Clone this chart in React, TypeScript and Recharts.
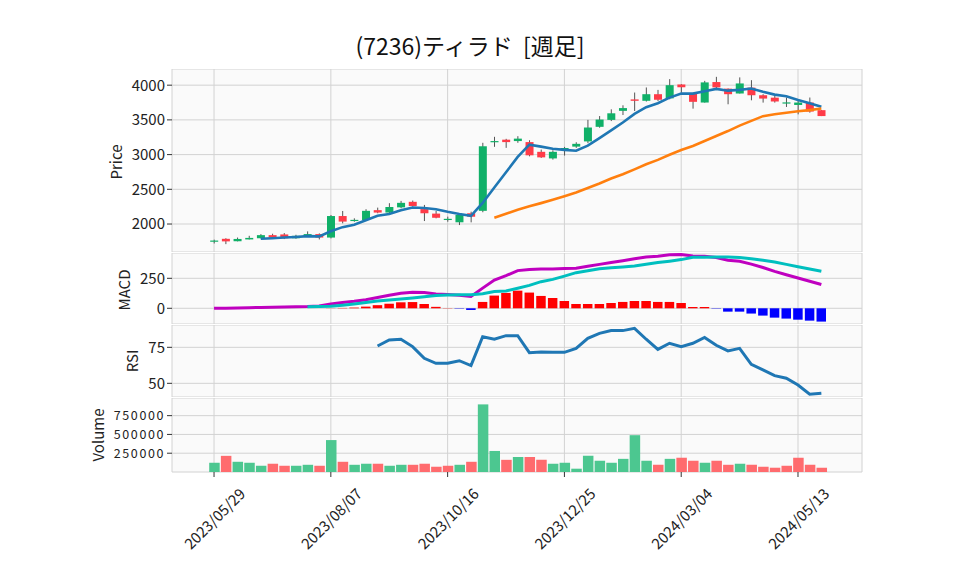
import React from 'react';
import { ComposedChart, Bar, Line, XAxis, YAxis, CartesianGrid, Cell } from 'recharts';

// weekly bars, index 0 = 2023/05/29
const tickIdx = [0, 10, 20, 30, 40, 50];
const tickLabels = ['2023/05/29', '2023/08/07', '2023/10/16', '2023/12/25', '2024/03/04', '2024/05/13'];

const opens = [1750, 1787, 1752, 1778, 1795, 1840, 1850, 1795, 1826, 1855, 1805, 2115, 2050, 2058, 2200, 2165, 2240, 2320, 2215, 2150, 2068, 2025, 2155, 2190, 3185, 3215, 3195, 3180, 3040, 2945, 3065, 3115, 3190, 3400, 3500, 3630, 3795, 3775, 3870, 3810, 4010, 3880, 3750, 4045, 3950, 3880, 3965, 3855, 3820, 3745, 3715, 3750, 3640];
const highs = [1775, 1795, 1805, 1830, 1855, 1860, 1870, 1845, 1894, 1865, 2130, 2188, 2082, 2213, 2236, 2300, 2333, 2338, 2275, 2188, 2106, 2155, 2178, 3170, 3256, 3227, 3265, 3207, 3072, 3062, 3111, 3178, 3500, 3555, 3652, 3710, 3894, 3967, 3932, 4087, 4015, 3880, 4062, 4120, 3952, 4112, 4072, 3870, 3845, 3822, 3772, 3822, 3640];
const lows = [1720, 1710, 1750, 1778, 1793, 1803, 1783, 1788, 1826, 1778, 1793, 2010, 2033, 2048, 2155, 2155, 2227, 2251, 2043, 2082, 2033, 1985, 2024, 2170, 3112, 3097, 3170, 2975, 2952, 2928, 2986, 3097, 3165, 3387, 3483, 3570, 3628, 3764, 3772, 3797, 3890, 3662, 3749, 3955, 3725, 3880, 3782, 3749, 3749, 3686, 3580, 3604, 3555];
const closes = [1762, 1750, 1785, 1800, 1840, 1805, 1795, 1830, 1855, 1805, 2115, 2035, 2060, 2190, 2165, 2245, 2305, 2260, 2155, 2090, 2075, 2130, 2105, 3120, 3195, 3180, 3230, 2990, 2960, 3040, 3095, 3155, 3390, 3505, 3595, 3670, 3775, 3870, 3790, 4000, 3970, 3760, 4040, 3968, 3870, 4025, 3855, 3807, 3765, 3752, 3750, 3620, 3555];
const volumes = [123000, 215000, 136000, 123000, 83000, 110000, 83000, 83000, 96000, 83000, 425000, 136000, 96000, 110000, 110000, 83000, 96000, 96000, 110000, 70000, 83000, 96000, 136000, 900000, 280000, 162000, 200000, 200000, 162000, 110000, 123000, 44000, 215000, 150000, 123000, 175000, 490000, 150000, 96000, 175000, 190000, 150000, 123000, 150000, 96000, 110000, 96000, 70000, 57000, 83000, 190000, 96000, 57000];

const ma5 = [null, null, null, null, 1787, 1796, 1805, 1814, 1825, 1822, 1895, 1955, 1990, 2055, 2120, 2145, 2198, 2238, 2230, 2214, 2177, 2145, 2118, 2304, 2525, 2746, 2966, 3143, 3115, 3085, 3068, 3055, 3128, 3237, 3348, 3463, 3587, 3683, 3740, 3821, 3881, 3878, 3912, 3947, 3921, 3932, 3951, 3904, 3864, 3841, 3786, 3739, 3688];
const ma25 = [null, null, null, null, null, null, null, null, null, null, null, null, null, null, null, null, null, null, null, null, null, null, null, null, 2091, 2148, 2207, 2255, 2301, 2349, 2401, 2455, 2518, 2584, 2655, 2718, 2787, 2860, 2924, 2997, 3066, 3124, 3195, 3268, 3339, 3417, 3486, 3554, 3580, 3602, 3625, 3641, 3663];

const macd = [0, 1, 3, 5, 7, 9, 11, 13, 15, 20, 35, 48, 58, 72, 90, 108, 126, 134, 131, 120, 114, 109, 98, 168, 236, 272, 314, 324, 327, 328, 331, 334, 350, 366, 382, 397, 413, 428, 434, 446, 448, 437, 434, 424, 400, 392, 368, 340, 308, 280, 252, 225, 198];
const signal = [null, null, null, null, null, null, null, null, 12, 14, 18, 26, 36, 48, 60, 70, 78, 86, 96, 106, 111, 112, 112, 122, 140, 145, 167, 191, 222, 241, 268, 297, 313, 329, 338, 344, 352, 367, 381, 393, 406, 426, 425, 427, 428, 423, 413, 401, 386, 366, 347, 328, 309];
const hist = [null, null, null, null, null, null, null, null, 0, 0, 1, 3, 6, 14, 26, 38, 50, 52, 36, 12, 2, -3, -14, 53, 106, 128, 147, 131, 103, 86, 61, 36, 36, 36, 44, 53, 61, 61, 53, 53, 44, 11, 11, -3, -28, -28, -44, -61, -78, -86, -95, -103, -111];

const rsi = [null, null, null, null, null, null, null, null, null, null, null, null, null, null, 75.9, 80.1, 80.6, 75.5, 67.4, 63.9, 63.9, 65.7, 62.3, 82.4, 80.6, 83.1, 83.1, 71.3, 71.8, 71.5, 71.5, 74.3, 81.3, 84.7, 86.6, 86.6, 88.2, 80.6, 73.6, 77.8, 75.5, 77.8, 81.9, 76.4, 72.5, 74.3, 63.2, 59.3, 55.3, 53.5, 48.8, 42.4, 43.1];

const UP = '#10b068';
const DOWN = '#ff3b48';
const VOL_UP = '#4cc790';
const VOL_DOWN = '#ff6b6e';
const GRID = '#d2d2d2';
const BG = '#fafafa';
const FONT = '"Noto Sans CJK JP", "Noto Sans", sans-serif';

const data = opens.map((o, i) => ({
  i,
  o,
  h: highs[i],
  l: lows[i],
  c: closes[i],
  range: [lows[i], highs[i]],
  vol: volumes[i],
  volUp: i === 0 || closes[i] >= closes[i - 1],
  ma5: ma5[i],
  ma25: ma25[i],
  macd: macd[i],
  signal: signal[i],
  hist: hist[i],
  rsi: rsi[i],
}));

const W = 958;
const margin = { top: 0, right: 96, bottom: 0, left: 112 };
const xDomain = [-3.6, 55.48];
const tickStyle = { fontSize: 15, fill: '#222' };
const volTickStyle = { fontSize: 12.5, fill: '#222', letterSpacing: 1.6 };

const Candle = (props: any) => {
  const { x, y, width, height, payload } = props;
  const { o, c, h, l } = payload;
  const k = height / Math.max(h - l, 1e-6);
  const yOf = (v: number) => y + (h - v) * k;
  const color = c >= o ? UP : DOWN;
  const cx = x + width / 2;
  const top = yOf(Math.max(o, c));
  const bot = yOf(Math.min(o, c));
  return (
    <g>
      <line x1={cx} x2={cx} y1={y} y2={y + height} stroke="#555" strokeWidth={1} />
      <rect x={x} y={top} width={width} height={Math.max(bot - top, 1.2)} fill={color} />
    </g>
  );
};

const DateTick = (props: any) => {
  const { x, y, payload } = props;
  const label = tickLabels[tickIdx.indexOf(payload.value)];
  return (
    <g transform={`translate(${x},${y + 39})`}>
      <text transform="rotate(-45)" textAnchor="middle" dominantBaseline="central" fontSize={15} fill="#222">
        {label}
      </text>
    </g>
  );
};

const xHidden = <XAxis dataKey="i" type="number" domain={xDomain} ticks={tickIdx} hide allowDataOverflow />;

export default function App() {
  return (
    <div style={{ position: 'absolute', left: 0, top: 0, width: W, height: 575, background: '#fff', fontFamily: FONT }}>
      <svg width={W} height={575} style={{ position: 'absolute', left: 0, top: 0 }}>
        <text x={470} y={45} textAnchor="middle" dominantBaseline="central" fontSize={23} fill="#111" style={{ whiteSpace: 'pre' }}>
          {'(7236)ティラド  [週足]'}
        </text>
        <text transform="translate(115,162) rotate(-90)" textAnchor="middle" dominantBaseline="central" fontSize={15} fill="#222">Price</text>
        <text transform="translate(123,290) rotate(-90)" textAnchor="middle" dominantBaseline="central" fontSize={15} fill="#222">MACD</text>
        <text transform="translate(131,361) rotate(-90)" textAnchor="middle" dominantBaseline="central" fontSize={15} fill="#222">RSI</text>
        <text transform="translate(97,435) rotate(-90)" textAnchor="middle" dominantBaseline="central" fontSize={15} fill="#222">Volume</text>
      </svg>

      <div style={{ position: 'absolute', left: 0, top: 69 }}>
        <ComposedChart width={W} height={183} data={data} margin={margin}>
          <CartesianGrid stroke={GRID} fill={BG} />
          {xHidden}
          <YAxis type="number" domain={[1597, 4233]} ticks={[2000, 2500, 3000, 3500, 4000]} interval={0} width={60} axisLine={false} tickSize={5} tickLine={{ stroke: '#333' }} tick={tickStyle} allowDataOverflow />
          <Bar dataKey="range" barSize={8} shape={Candle} isAnimationActive={false} />
          <Line dataKey="ma5" type="linear" stroke="#1f77b4" strokeWidth={2.6} dot={false} isAnimationActive={false} />
          <Line dataKey="ma25" type="linear" stroke="#ff7f0e" strokeWidth={2.6} dot={false} isAnimationActive={false} />
        </ComposedChart>
      </div>

      <div style={{ position: 'absolute', left: 0, top: 253 }}>
        <ComposedChart width={W} height={71} data={data} margin={margin}>
          <CartesianGrid stroke={GRID} fill={BG} />
          {xHidden}
          <YAxis type="number" domain={[-131, 461]} ticks={[0, 250]} interval={0} width={60} axisLine={false} tickSize={5} tickLine={{ stroke: '#333' }} tick={tickStyle} allowDataOverflow />
          <Bar dataKey="hist" barSize={9.5} isAnimationActive={false}>
            {data.map((d, i) => (
              <Cell key={i} fill={(d.hist ?? 0) >= 0 ? '#ff0000' : '#0000ff'} />
            ))}
          </Bar>
          <Line dataKey="macd" type="linear" stroke="#bf00bf" strokeWidth={3} dot={false} isAnimationActive={false} />
          <Line dataKey="signal" type="linear" stroke="#00bfbf" strokeWidth={3} dot={false} isAnimationActive={false} />
        </ComposedChart>
      </div>

      <div style={{ position: 'absolute', left: 0, top: 325 }}>
        <ComposedChart width={W} height={72} data={data} margin={margin}>
          <CartesianGrid stroke={GRID} fill={BG} />
          {xHidden}
          <YAxis type="number" domain={[40.5, 90.5]} ticks={[50, 75]} interval={0} width={60} axisLine={false} tickSize={5} tickLine={{ stroke: '#333' }} tick={tickStyle} allowDataOverflow />
          <Line dataKey="rsi" type="linear" stroke="#1f77b4" strokeWidth={3} dot={false} isAnimationActive={false} />
        </ComposedChart>
      </div>

      <div style={{ position: 'absolute', left: 0, top: 398 }}>
        <ComposedChart width={W} height={174} data={data} margin={margin}>
          <CartesianGrid stroke={GRID} fill={BG} />
          <XAxis dataKey="i" type="number" domain={xDomain} ticks={tickIdx} interval={0} height={100} axisLine={false} tickSize={5} tickLine={{ stroke: '#333' }} tick={<DateTick />} allowDataOverflow />
          <YAxis type="number" domain={[0, 985000]} ticks={[250000, 500000, 750000]} interval={0} width={60} axisLine={false} tickSize={5} tickLine={{ stroke: '#333' }} tick={volTickStyle} allowDataOverflow />
          <Bar dataKey="vol" barSize={11.68} isAnimationActive={false}>
            {data.map((d, i) => (
              <Cell key={i} fill={d.volUp ? VOL_UP : VOL_DOWN} />
            ))}
          </Bar>
        </ComposedChart>
      </div>
    </div>
  );
}
